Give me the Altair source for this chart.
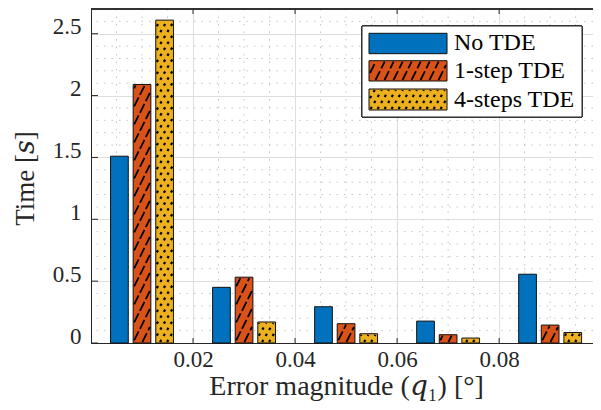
import altair as alt
import pandas as pd
import numpy as np

# ---- data ----
groups = [0.01, 0.03, 0.05, 0.07, 0.09]
series = ["No TDE", "1-step TDE", "4-steps TDE"]
no_tde = [1.51, 0.45, 0.293, 0.177, 0.556]
one_step = [2.09, 0.532, 0.156, 0.067, 0.145]
four_steps = [2.61, 0.17, 0.075, 0.04, 0.085]
colors = ["#0072BD", "#D95319", "#EDB120"]
x_ticks = [0.02, 0.04, 0.06, 0.08]
y_ticks = [0, 0.5, 1, 1.5, 2, 2.5]

# ---- layout ----
WIDTH, HEIGHT = 502, 334
XMAX, YMAX = 0.0984, 2.7
SX, SY = WIDTH / XMAX, HEIGHT / YMAX
BAR_STEP = 0.00443
BAR_W = 0.00347
FONT = "Liberation Serif, DejaVu Serif, serif"
AX = "#262626"


def hatch(W, H, spacing, slope, m=1.0):
    segs = []
    if W <= 2 * m or H <= 2 * m:
        return segs
    step = spacing * slope
    c = -slope * W
    while c < H:
        xa = max(m, (m - c) / slope)
        xb = min(W - m, (H - m - c) / slope)
        if xb - xa > 0.3:
            segs.append((xa, c + slope * xa, xb, c + slope * xb))
        c += step
    return segs


HATCH = {"1-step TDE": dict(spacing=9.0, slope=2.0), "4-steps TDE": dict(spacing=7.0, slope=1.7)}
DASH1, DASH2 = [10, 3], [2.5, 4.5]

rows, hrows = [], []
for si, (name, vals) in enumerate(zip(series, [no_tde, one_step, four_steps])):
    for g, v in zip(groups, vals):
        c = g + (si - 1) * BAR_STEP
        x0, x1 = c - BAR_W / 2, c + BAR_W / 2
        rows.append(dict(x=x0, x2=x1, y=v, y2=0.0, series=name))
        if name in HATCH:
            for (a, b, cc, d) in hatch(BAR_W * SX, v * SY, **HATCH[name]):
                hrows.append(dict(x=x0 + a / SX, y=b / SY, x2=x0 + cc / SX, y2=d / SY, series=name))
bars_df = pd.DataFrame(rows)
hatch_df = pd.DataFrame(hrows)

xscale = alt.Scale(domain=[0, XMAX], nice=False, zero=False)
yscale = alt.Scale(domain=[0, YMAX], nice=False, zero=False)
cscale = alt.Scale(domain=series, range=colors)

xaxis = alt.Axis(values=x_ticks, format=".2f", grid=True, gridColor="#dedede", gridWidth=1,
                 ticks=False, tickSize=0, domain=True, domainColor=AX, domainWidth=1,
                 labelFont=FONT, labelFontSize=23, labelColor=AX, labelPadding=5,
                 title="Error magnitude (𝑞₁) [°]", titleFont=FONT, titleFontSize=28,
                 titleFontWeight="normal", titleColor=AX, titleX=255, titleY=51,
                 titleAlign="center", titleBaseline="alphabetic")
yaxis = alt.Axis(values=y_ticks, format="~g", grid=True, gridColor="#dedede", gridWidth=1,
                 ticks=False, tickSize=0, domain=True, domainColor=AX, domainWidth=1,
                 labelFont=FONT, labelFontSize=23, labelColor=AX, labelPadding=10,
                 labelBaseline="alphabetic",
                 title="Time [𝑠]", titleFont=FONT, titleFontSize=27, titleFontWeight="normal",
                 titleColor=AX, titleX=-66, titleY=HEIGHT / 2 + 2, titleAngle=270,
                 titleAlign="center", titleBaseline="middle")

X = lambda f="x": alt.X(f"{f}:Q", scale=xscale, axis=xaxis)
Y = lambda f="y": alt.Y(f"{f}:Q", scale=yscale, axis=yaxis)

minor_x = [round(v, 3) for v in np.arange(0.005, XMAX, 0.005) if round(v / 0.02, 6) % 1 != 0]
minor_y = [round(v, 2) for v in np.arange(0.1, YMAX, 0.1) if round(v / 0.5, 6) % 1 != 0]

gx = alt.Chart(pd.DataFrame({"x": minor_x})).mark_rule(color="#c4c4c4", strokeWidth=1, strokeDash=[1.5, 6]).encode(x=X())
gy = alt.Chart(pd.DataFrame({"y": minor_y})).mark_rule(color="#c4c4c4", strokeWidth=1, strokeDash=[1.5, 6]).encode(y=Y())

bars = alt.Chart(bars_df).mark_bar(stroke="#111111", strokeWidth=1).encode(
    x=X(), x2="x2", y=Y(), y2="y2",
    fill=alt.Fill("series:N", scale=cscale, legend=None))

h1 = alt.Chart(hatch_df[hatch_df.series == "1-step TDE"]).mark_rule(
    color="#000000", strokeWidth=1.8, strokeDash=DASH1).encode(x=X(), x2="x2", y=Y(), y2="y2")
h2 = alt.Chart(hatch_df[hatch_df.series == "4-steps TDE"]).mark_rule(
    color="#000000", strokeWidth=2.2, strokeDash=DASH2).encode(x=X(), x2="x2", y=Y(), y2="y2")

xt = pd.DataFrame({"x": x_ticks})
yt = pd.DataFrame({"y": y_ticks})
tick_b = alt.Chart(xt).mark_rule(color=AX).encode(x=X(), y=alt.value(HEIGHT), y2=alt.value(HEIGHT - 5))
tick_t = alt.Chart(xt).mark_rule(color=AX).encode(x=X(), y=alt.value(0), y2=alt.value(5))
tick_l = alt.Chart(yt).mark_rule(color=AX).encode(y=Y(), x=alt.value(0), x2=alt.value(7))
top = alt.Chart(xt).mark_rule(color=AX, strokeWidth=1).encode(
    x=alt.value(0), x2=alt.value(WIDTH), y=alt.value(0))

# ---- legend (pixel positions in the plot frame) ----
LX0, LX1, LY0, LY1 = 271, 491, 17, 108
box = alt.Chart(xt).mark_rect(fill="white", stroke=AX, strokeWidth=1).encode(
    x=alt.value(LX0), x2=alt.value(LX1), y=alt.value(LY0), y2=alt.value(LY1))
sw_x0, sw_x1 = 278, 356
sw_rows = [(24.3, 44.7), (51.7, 72.0), (80.0, 101.0)]
lrows, lhrows = [], []
for name, (t, b) in zip(series, sw_rows):
    lrows.append(dict(lx=sw_x0, lx2=sw_x1, ly=t, ly2=b, tx=sw_x0 + 85, ty=b - 3.5, series=name))
    if name in HATCH:
        for (a, bb, cc, d) in hatch(sw_x1 - sw_x0, b - t, **HATCH[name]):
            lhrows.append(dict(lx=sw_x0 + a, ly=b - bb, lx2=sw_x0 + cc, ly2=b - d, series=name))
leg_df = pd.DataFrame(lrows)
legh_df = pd.DataFrame(lhrows)

sw = alt.Chart(leg_df).mark_rect(stroke="#111111", strokeWidth=1).encode(
    x=alt.X("lx:Q", scale=None), x2="lx2", y=alt.Y("ly:Q", scale=None), y2="ly2",
    fill=alt.Fill("series:N", scale=cscale, legend=None))
lh1 = alt.Chart(legh_df[legh_df.series == "1-step TDE"]).mark_rule(
    color="#000000", strokeWidth=1.8, strokeDash=DASH1).encode(
    x=alt.X("lx:Q", scale=None), x2="lx2", y=alt.Y("ly:Q", scale=None), y2="ly2")
lh2 = alt.Chart(legh_df[legh_df.series == "4-steps TDE"]).mark_rule(
    color="#000000", strokeWidth=2.2, strokeDash=DASH2).encode(
    x=alt.X("lx:Q", scale=None), x2="lx2", y=alt.Y("ly:Q", scale=None), y2="ly2")
ltxt = alt.Chart(leg_df).mark_text(align="left", baseline="alphabetic", font=FONT,
                                   fontSize=24, color="#000000").encode(
    x=alt.X("tx:Q", scale=None), y=alt.Y("ty:Q", scale=None), text="series:N")

chart = alt.layer(gx, gy, bars, h1, h2, tick_b, tick_t, tick_l, top,
                  box, sw, lh1, lh2, ltxt).properties(
    width=WIDTH, height=HEIGHT,
    padding={"left": 83, "top": 1, "right": 0, "bottom": 59},
    autosize=alt.AutoSizeParams(type="none"),
    background="white",
).configure_view(stroke=None)

chart.save("out.html", embed_options={"renderer": "svg", "actions": False})
